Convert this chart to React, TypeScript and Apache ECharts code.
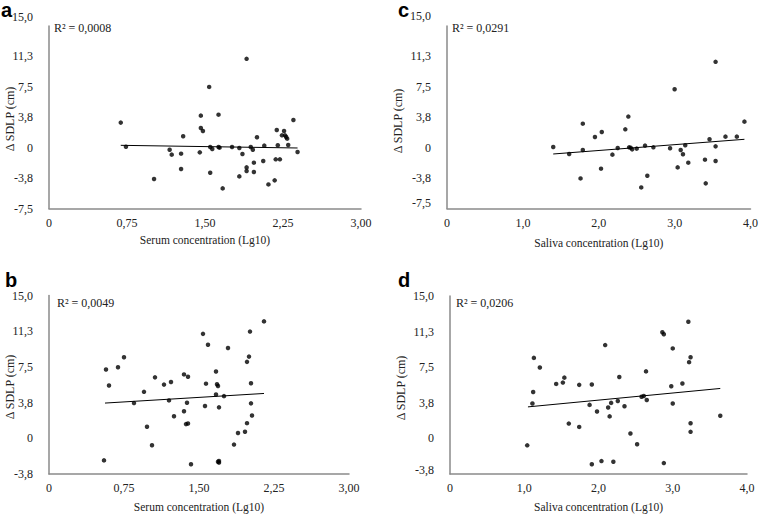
import React, { useEffect, useRef } from "react";
import * as echarts from "echarts";

// Panel a: serum concentration (Lg10) vs ΔSDLP (cm)
const pointsA: number[][] = [
  [0.69, 3.09], [0.74, 0.12], [1.01, -3.87], [1.16, -0.25], [1.18, -0.86], [1.27, -0.74],
  [1.27, -2.63], [1.29, 1.4], [1.45, -0.58], [1.46, 3.95], [1.46, 2.43], [1.48, 2.06],
  [1.54, 7.49], [1.55, -3.09], [1.55, 0.08], [1.57, -0.16], [1.63, 4.07], [1.63, 0.08],
  [1.64, 0.0], [1.67, -5.02], [1.76, 0.08], [1.83, -0.04], [1.83, -3.54], [1.86, -0.78],
  [1.9, 10.95], [1.9, -2.43], [1.9, -2.88], [1.94, 0.08], [1.96, -0.25], [1.97, -1.85],
  [1.97, -3.0], [2.0, 1.28], [2.06, -1.65], [2.07, 0.25], [2.11, -4.53], [2.17, -4.03],
  [2.18, -1.44], [2.19, 2.18], [2.2, 0.29], [2.22, -1.44], [2.24, 1.52], [2.26, 2.06],
  [2.27, 1.52], [2.28, 1.32], [2.29, 1.11], [2.3, 0.33], [2.35, 3.42], [2.39, -0.53],
];
const trendA: number[][] = [[0.69, 0.29], [2.39, -0.04]];

// Panel b: serum concentration (Lg10) vs ΔSDLP (cm)
const pointsB: number[][] = [
  [0.55, -2.32], [0.57, 7.23], [0.6, 5.54], [0.69, 7.47], [0.75, 8.51], [0.85, 3.7],
  [0.95, 4.88], [0.98, 1.21], [1.03, -0.73], [1.06, 6.4], [1.15, 5.64], [1.2, 3.98],
  [1.22, 5.92], [1.25, 2.32], [1.35, 6.71], [1.35, 2.84], [1.37, 1.49], [1.38, 3.74],
  [1.39, 6.47], [1.39, 1.56], [1.42, -2.73], [1.54, 10.97], [1.56, 3.39], [1.57, 5.74],
  [1.59, 9.83], [1.67, 7.02], [1.67, 4.6], [1.68, 5.67], [1.69, -2.46], [1.69, 5.5],
  [1.7, -2.39], [1.7, -2.56], [1.7, 3.25], [1.75, 4.43], [1.79, 9.48], [1.85, -0.66],
  [1.89, 0.55], [1.96, 0.69], [1.98, 8.03], [1.98, 1.59], [2.0, 8.58], [2.01, 11.21],
  [2.02, 3.67], [2.02, 5.78], [2.03, 2.39], [2.15, 12.28],
];
const trendB: number[][] = [[0.56, 3.7], [2.15, 4.71]];

// Panel c: saliva concentration (Lg10) vs ΔSDLP (cm)
const pointsC: number[][] = [
  [1.4, 0.08], [1.61, -0.78], [1.76, -3.79], [1.79, 2.96], [1.79, -0.29], [1.95, 1.32],
  [2.03, -2.59], [2.04, 1.93], [2.18, -0.86], [2.25, -0.04], [2.35, 2.26], [2.39, 3.83],
  [2.4, 0.04], [2.42, 0.0], [2.44, -0.21], [2.5, -0.12], [2.56, -4.9], [2.61, 0.25],
  [2.64, -3.46], [2.72, 0.04], [2.94, -0.08], [3.0, 7.2], [3.04, -2.43], [3.08, -0.29],
  [3.11, -0.82], [3.14, 0.29], [3.18, -1.85], [3.4, -1.48], [3.41, -4.4], [3.46, 1.03],
  [3.54, 10.58], [3.54, 0.16], [3.54, -1.65], [3.67, 1.36], [3.82, 1.36], [3.92, 3.21],
];
const trendC: number[][] = [[1.4, -0.78], [3.92, 1.03]];

// Panel d: saliva concentration (Lg10) vs ΔSDLP (cm)
const pointsD: number[][] = [
  [1.04, -0.73], [1.11, 3.67], [1.12, 4.88], [1.13, 8.48], [1.21, 7.47], [1.43, 5.74],
  [1.52, 5.88], [1.54, 6.4], [1.6, 1.56], [1.74, 1.21], [1.74, 5.64], [1.88, 3.53],
  [1.91, 5.67], [1.91, -2.73], [1.98, 2.84], [2.04, -2.39], [2.09, 9.83], [2.13, 3.25],
  [2.15, 2.32], [2.17, 3.74], [2.2, -2.46], [2.26, 3.94], [2.28, 6.47], [2.35, 3.39],
  [2.43, 0.52], [2.52, -0.62], [2.58, 4.39], [2.61, 4.46], [2.64, 7.06], [2.65, 4.05],
  [2.86, 11.18], [2.88, 10.97], [2.88, -2.6], [2.98, 5.5], [3.0, 9.48], [3.0, 3.67],
  [3.13, 5.78], [3.21, 12.28], [3.22, 8.03], [3.24, 8.55], [3.24, 1.59], [3.24, 0.69],
  [3.64, 2.39],
];
const trendD: number[][] = [[1.05, 3.32], [3.64, 5.26]];

const panelLetters = ["a", "b", "c", "d"];
const r2Labels = ["R² = 0,0008", "R² = 0,0049", "R² = 0,0291", "R² = 0,0206"];
const xNames = [
  "Serum concentration (Lg10)",
  "Serum concentration (Lg10)",
  "Saliva concentration (Lg10)",
  "Saliva concentration (Lg10)",
];
const yName = "Δ SDLP (cm)";

const SERIF = "Liberation Serif";
const SANS = "Liberation Sans";
const AXIS_COLOR = "#8a8a8a";
const TEXT_COLOR = "#222";

function fmtX2(v: number) {
  return v === 0 ? "0" : v.toFixed(2).replace(".", ",");
}
function fmtX1(v: number) {
  return v === 0 ? "0" : v.toFixed(1).replace(".", ",");
}
function fmtY(v: number) {
  return v === 0 ? "0" : v.toFixed(1).replace(".", ",");
}

export default function App() {
  const ref = useRef<HTMLDivElement>(null);
  useEffect(() => {
    if (!ref.current) return;
    const chart = echarts.init(ref.current, null, { renderer: "svg" });

    const grids = [
      { left: 49, top: 26, width: 312, height: 182.5 },
      { left: 49, top: 295.5, width: 300, height: 180 },
      { left: 447, top: 26, width: 304, height: 182.5 },
      { left: 450, top: 296, width: 297, height: 180 },
    ];
    const xCfg = [
      { max: 3, interval: 0.75, fmt: fmtX2, gap: 25 },
      { max: 3, interval: 0.75, fmt: fmtX2, gap: 27 },
      { max: 4, interval: 1, fmt: fmtX1, gap: 28 },
      { max: 4, interval: 1, fmt: fmtX1, gap: 27 },
    ];
    const yMins = [-7.5, -3.75, -7.5, -3.75];
    // labels that the reference draws nudged upward: [value, shift in px]
    const yNudge: number[][][] = [[[15, 9]], [], [[15, 10], [-7.5, 6]], [[-3.75, 4]]];
    const pts = [pointsA, pointsB, pointsC, pointsD];
    const trends = [trendA, trendB, trendC, trendD];

    const xAxis = grids.map((_, i) => ({
      type: "value",
      gridIndex: i,
      min: 0,
      max: xCfg[i].max,
      interval: xCfg[i].interval,
      name: xNames[i],
      nameLocation: "middle",
      nameGap: xCfg[i].gap,
      nameTextStyle: { fontFamily: SERIF, fontSize: 11.5, color: TEXT_COLOR },
      axisLine: { show: true, onZero: false, lineStyle: { color: AXIS_COLOR, width: 1.5 } },
      axisTick: { show: false },
      splitLine: { show: false },
      axisLabel: {
        formatter: xCfg[i].fmt,
        fontFamily: SERIF,
        fontSize: 12,
        color: TEXT_COLOR,
        margin: 8,
      },
    }));
    const yAxis = grids.map((_, i) => {
      const rich: any = {};
      yNudge[i].forEach((n, k) => {
        rich["n" + k] = {
          fontFamily: SERIF,
          fontSize: 12,
          color: TEXT_COLOR,
          padding: [0, 0, n[1] * 2, 0],
        };
      });
      return {
        type: "value",
        gridIndex: i,
        min: yMins[i],
        max: 15,
        interval: 3.75,
        axisLine: { show: true, onZero: false, lineStyle: { color: AXIS_COLOR, width: 1.5 } },
        axisTick: { show: false },
        splitLine: { show: false },
        axisLabel: {
          formatter: (v: number) => {
            const k = yNudge[i].findIndex((n) => Math.abs(n[0] - v) < 1e-6);
            return k >= 0 ? `{n${k}|${fmtY(v)}}` : fmtY(v);
          },
          rich,
          fontFamily: SERIF,
          fontSize: 12,
          color: TEXT_COLOR,
          margin: 16,
        },
      };
    });

    const series: any[] = [];
    pts.forEach((p, i) => {
      series.push({
        type: "scatter",
        xAxisIndex: i,
        yAxisIndex: i,
        data: p,
        symbol: "circle",
        symbolSize: 4.5,
        itemStyle: { color: "#000" },
        silent: true,
      });
      series.push({
        type: "line",
        xAxisIndex: i,
        yAxisIndex: i,
        data: trends[i],
        symbol: "none",
        lineStyle: { color: "#000", width: 1 },
        silent: true,
      });
    });

    const letterPos = [
      [1, 10],
      [5, 280],
      [398, 10],
      [398, 280],
    ];
    const r2Pos = [
      [54, 28],
      [57, 303],
      [452, 28],
      [456, 303],
    ];
    const yNamePos = [
      [10, 119],
      [10, 387],
      [398, 121],
      [401, 388],
    ];
    const graphic: any[] = [];
    for (let i = 0; i < 4; i++) {
      graphic.push({
        type: "text",
        x: letterPos[i][0],
        y: letterPos[i][1],
        style: {
          text: panelLetters[i],
          fontFamily: SANS,
          fontWeight: "bold",
          fontSize: 20,
          fill: "#000",
          align: "left",
          verticalAlign: "middle",
        },
      });
      graphic.push({
        type: "text",
        x: r2Pos[i][0],
        y: r2Pos[i][1],
        style: {
          text: r2Labels[i],
          fontFamily: SERIF,
          fontSize: 12,
          fill: TEXT_COLOR,
          align: "left",
          verticalAlign: "middle",
        },
      });
      graphic.push({
        type: "text",
        x: yNamePos[i][0],
        y: yNamePos[i][1],
        rotation: Math.PI / 2,
        style: {
          text: yName,
          fontFamily: SERIF,
          fontSize: 12,
          fill: TEXT_COLOR,
          align: "center",
          verticalAlign: "middle",
        },
      });
    }

    chart.setOption({
      animation: false,
      backgroundColor: "#fff",
      grid: grids,
      xAxis,
      yAxis,
      series,
      graphic,
    });
    return () => chart.dispose();
  }, []);

  return (
    <div
      ref={ref}
      style={{ position: "fixed", left: 0, top: 0, width: 761, height: 514, background: "#fff" }}
    />
  );
}
